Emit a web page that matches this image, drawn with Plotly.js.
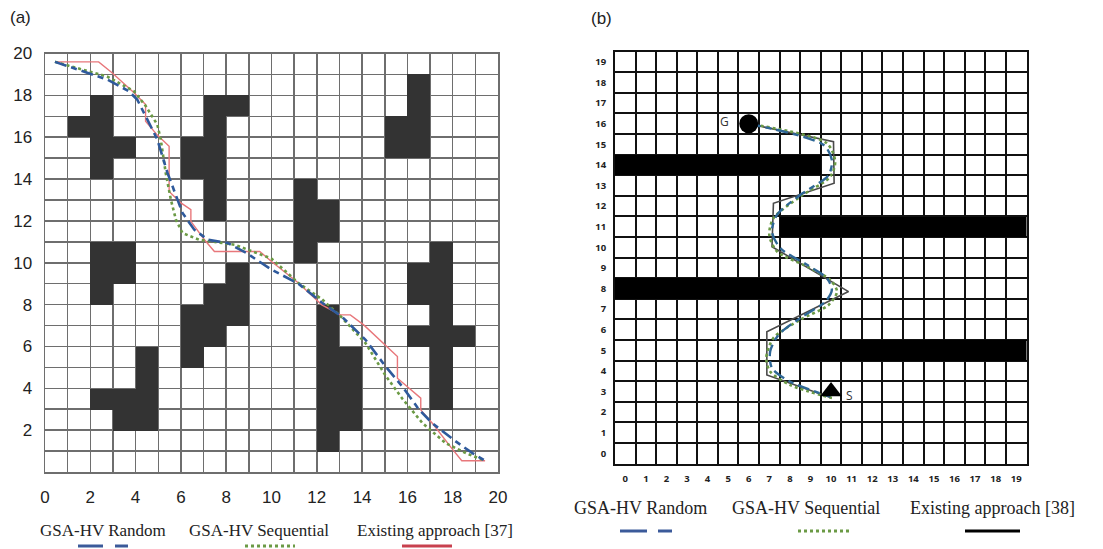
<!DOCTYPE html>
<html><head><meta charset="utf-8">
<script src="https://cdn.plot.ly/plotly-3.0.1.min.js"></script>
<style>html,body{margin:0;padding:0;background:#fff}#chart{width:1103px;height:549px}</style>
</head><body><div id="chart"></div>
<script>
// ---------- Panel (a) data ----------
// obstacle runs: column, row-from, row-to
const obsA_col = [1,2,3,6,7,8,2,3,8,7,6,4,3,2,11,12,15,16,16,17,12,13,17,16,18];
const obsA_y0  = [16,14,15,14,12,17,8,9,7,6,5,2,2,3,10,11,15,15,8,8,1,2,3,6,6];
const obsA_y1  = [17,18,16,16,18,18,11,11,10,9,8,6,4,4,14,13,17,19,10,11,8,6,8,7,7];

const randA_x = [0.44,2.74,3.7,4.07,4.52,4.96,5.41,5.7,6.07,6.59,7.19,8.07,8.9,10,11.19,12.22,13.1,14.15,15.04,15.78,16.52,17.1,18.15,18.89,19.43];
const randA_y = [19.6,18.76,18.2,17.8,16.84,15.89,14.29,13.49,12.38,11.58,11.1,10.94,10.46,9.67,9.0,8.1,7.43,6.32,5.04,4.08,2.97,2.33,1.45,0.89,0.54];

const seqA_x = [0.44,2.74,3.93,4.44,4.96,5.11,5.33,5.56,5.78,6.07,6.8,8.37,10,11.19,12.22,13.0,14.15,15.04,15.78,16.67,17.7,18.6,19.43];
const seqA_y = [19.6,18.9,18.2,17.5,16.6,15.89,14.29,13.0,12.06,11.42,11.1,10.86,10.2,9.03,8.26,7.5,6.16,4.6,3.5,2.33,1.37,0.89,0.54];

const exA_x = [0.44,2.37,2.96,3.93,4.44,4.44,4.96,5.48,5.48,6.0,6.44,6.44,7.04,7.48,9.48,10,11.19,12.22,13.04,13.48,14.07,15.1,15.56,15.56,16.15,16.59,16.59,17.1,17.96,18.4,19.43];
const exA_y = [19.6,19.6,19.08,18.12,17.56,16.76,16.1,15.57,13.41,12.86,12.54,11.98,11.1,10.54,10.54,10.06,9.03,7.99,7.51,7.51,7.03,6.0,5.52,4.48,3.92,3.53,2.97,2.33,1.13,0.54,0.54];

const ticksA_val = [0,1,2,3,4,5,6,7,8,9,10,11,12,13,14,15,16,17,18,19,20];
const ticksA_xtext = ['0','','2','','4','','6','','8','','10','','12','','14','','16','','18','','20'];
const ticksA_ytext = ['','','2','','4','','6','','8','','10','','12','','14','','16','','18','','20'];

// ---------- Panel (b) data ----------
const obsB_row = [14,11,8,5];
const obsB_c0  = [0,8,0,8];
const obsB_c1  = [9,19,9,19];

const randB_x = [6,9.64,10.04,9.88,8.5,7.37,7.13,7.53,8.83,9.8,10.04,9.72,8.5,7.45,7.04,7.13,8.0,9.96];
const randB_y = [16,14.97,14.24,13.51,12.54,11.57,10.76,9.96,9.15,8.5,7.93,7.36,6.56,5.75,4.94,4.13,3.48,2.75];

const seqB_x = [6,9.8,10.2,9.96,8.5,7.2,7.0,7.37,8.83,9.96,10.29,9.88,8.5,7.2,6.85,7.04,8.0,10.04];
const seqB_y = [16,15.05,14.16,13.43,12.46,11.41,10.6,9.8,9.07,8.42,7.85,7.2,6.48,5.59,4.62,3.97,3.32,2.68];

const exB_x = [6,10.12,10.15,7.2,7.13,10.85,6.88,6.88,10.04];
const exB_y = [16,15.13,13.11,12.14,10.03,7.85,5.9,3.8,2.68];

const goalB = [6,16];
const startB = [10,3.0];

const ticksB_val = [0,1,2,3,4,5,6,7,8,9,10,11,12,13,14,15,16,17,18,19];
const ticksB_text = ['0','1','2','3','4','5','6','7','8','9','10','11','12','13','14','15','16','17','18','19'];

const legendA = ['GSA-HV Random','GSA-HV Sequential','Existing approach [37]'];
const legendB = ['GSA-HV Random','GSA-HV Sequential','Existing approach [38]'];

// ---------- build ----------
const W = 1103, H = 549;
const px = v => v / W, py = v => 1 - v / H;

const centersA = Array.from({length:20}, (_, i) => i + 0.5);
const zA = Array.from({length:20}, () => Array(20).fill(0));
obsA_col.forEach((c, k) => { for (let r = obsA_y0[k]; r < obsA_y1[k]; r++) zA[r][c] = 1; });

const centersB = ticksB_val;
const zB = Array.from({length:20}, () => Array(20).fill(0));
obsB_row.forEach((r, k) => { for (let c = obsB_c0[k]; c <= obsB_c1[k]; c++) zB[r][c] = 1; });

const cBlue = '#2f5a9c', cBlueB = '#2e6796', cGreen = '#6b9a45', cRed = '#e8777b';

const traces = [
  {type:'heatmap', x:centersA, y:centersA, z:zA, zmin:0, zmax:1, showscale:false, hoverinfo:'skip',
   colorscale:[[0,'rgba(0,0,0,0)'],[1,'#333333']], xaxis:'x', yaxis:'y'},
  {type:'scatter', mode:'lines', x:exA_x, y:exA_y, line:{color:cRed, width:1.4}, xaxis:'x', yaxis:'y'},
  {type:'scatter', mode:'lines', x:seqA_x, y:seqA_y, line:{color:cGreen, width:2.6, dash:'dot'}, xaxis:'x', yaxis:'y'},
  {type:'scatter', mode:'lines', x:randA_x, y:randA_y, line:{color:cBlue, width:2.6, dash:'12px,5px,6px,5px'}, xaxis:'x', yaxis:'y'},

  {type:'heatmap', x:centersB, y:centersB, z:zB, zmin:0, zmax:1, showscale:false, hoverinfo:'skip',
   colorscale:[[0,'rgba(0,0,0,0)'],[1,'#000000']], xaxis:'x2', yaxis:'y2'},
  {type:'scatter', mode:'lines', x:exB_x, y:exB_y, line:{color:'#4a4a4a', width:1.6}, xaxis:'x2', yaxis:'y2'},
  {type:'scatter', mode:'lines', x:seqB_x, y:seqB_y, line:{color:cGreen, width:2.6, dash:'dot', shape:'spline', smoothing:0.8}, xaxis:'x2', yaxis:'y2'},
  {type:'scatter', mode:'lines', x:randB_x, y:randB_y, line:{color:cBlueB, width:2.4, dash:'12px,5px,6px,5px', shape:'spline', smoothing:0.8}, xaxis:'x2', yaxis:'y2'},
  {type:'scatter', mode:'markers', x:[goalB[0]], y:[goalB[1]], marker:{symbol:'circle', size:19, color:'#000'}, xaxis:'x2', yaxis:'y2'},
  {type:'scatter', mode:'markers', x:[startB[0]], y:[startB[1]], marker:{symbol:'triangle-up', size:19, color:'#000'}, xaxis:'x2', yaxis:'y2'}
];

const gA = '#6e6e6e';
const fontA = {family:'Liberation Sans, Arial, sans-serif', size:17, color:'#222'};
const fontB = {family:'Open Sans, Noto Sans, sans-serif', size:9.5, color:'#222', weight:700};
const serif = 'Liberation Serif, Times New Roman, serif';

const annotations = [
  {xref:'paper', yref:'paper', x:px(8), y:py(17), text:'(a)', showarrow:false, xanchor:'left', yanchor:'middle', font:{family:fontA.family, size:17, color:'#222'}},
  {xref:'paper', yref:'paper', x:px(589), y:py(18), text:'(b)', showarrow:false, xanchor:'left', yanchor:'middle', font:{family:fontA.family, size:17, color:'#222'}},
  {xref:'x2', yref:'y2', x:4.8, y:16.1, text:'G', showarrow:false, font:{family:'Open Sans, sans-serif', size:12, color:'#333'}},
  {xref:'x2', yref:'y2', x:10.9, y:2.8, text:'S', showarrow:false, font:{family:'Open Sans, sans-serif', size:12, color:'#333'}}
];
const legAx = [38, 187, 355], legBx = [572, 730, 908];
legendA.forEach((t, i) => annotations.push({xref:'paper', yref:'paper', x:px(legAx[i]), y:py(530), text:t, showarrow:false,
  xanchor:'left', yanchor:'middle', font:{family:serif, size:17, color:'#222'}}));
legendB.forEach((t, i) => annotations.push({xref:'paper', yref:'paper', x:px(legBx[i]), y:py(508), text:t, showarrow:false,
  xanchor:'left', yanchor:'middle', font:{family:serif, size:18, color:'#222'}}));

const seg = (x0, x1, y, color, dash, w) => ({type:'line', xref:'paper', yref:'paper', x0:px(x0), x1:px(x1), y0:py(y), y1:py(y),
  line:{color:color, width:w||3, dash:dash||'solid'}});
const shapes = [
  seg(78,103,546,'#3b5a9a'), seg(115,128,546,'#3b5a9a'),
  seg(245,295,546,cGreen,'dot'),
  seg(402,452,546,'#c8404e'),
  seg(620,647,531,'#3b5a9a'), seg(658,672,531,'#3b5a9a'),
  seg(798,850,531,cGreen,'dot'),
  seg(965,1020,531,'#000')
];

const halfB = Array.from({length:21}, (_, i) => i - 0.5);

const layout = {
  width:W, height:H, margin:{l:0,r:0,t:0,b:0}, paper_bgcolor:'#fff', plot_bgcolor:'#fff', showlegend:false,
  xaxis:{domain:[px(45), px(498)], range:[0,20], tickmode:'array', tickvals:ticksA_val, ticktext:ticksA_xtext,
    showgrid:true, gridcolor:gA, gridwidth:1.5, showline:true, mirror:true, linecolor:gA, linewidth:1.5, zeroline:false,
    ticks:'outside', ticklen:9, tickcolor:'rgba(0,0,0,0)', tickfont:fontA, fixedrange:true, anchor:'y'},
  yaxis:{domain:[1-472/H, 1-53.5/H], range:[0,20], tickmode:'array', tickvals:ticksA_val, ticktext:ticksA_ytext,
    showgrid:true, gridcolor:gA, gridwidth:1.5, showline:true, mirror:true, linecolor:gA, linewidth:1.5, zeroline:false,
    ticks:'outside', ticklen:8, tickcolor:'rgba(0,0,0,0)', tickfont:fontA, fixedrange:true, anchor:'x'},
  xaxis2:{domain:[px(615), px(1026.5)], range:[-0.5,19.5], tickmode:'array', tickvals:ticksB_val, ticktext:ticksB_text,
    showgrid:false, showline:true, mirror:true, linecolor:'#111', linewidth:2, zeroline:false,
    minor:{tickmode:'array', tickvals:halfB, showgrid:true, gridcolor:'#111', gridwidth:2, ticks:''},
    ticks:'outside', ticklen:5, tickcolor:'rgba(0,0,0,0)', tickfont:fontB, fixedrange:true, anchor:'y2'},
  yaxis2:{domain:[1-463.5/H, 1-51.7/H], range:[-0.5,19.5], tickmode:'array', tickvals:ticksB_val, ticktext:ticksB_text,
    showgrid:false, showline:true, mirror:true, linecolor:'#111', linewidth:2, zeroline:false,
    minor:{tickmode:'array', tickvals:halfB, showgrid:true, gridcolor:'#111', gridwidth:2, ticks:''},
    ticks:'outside', ticklen:5, tickcolor:'rgba(0,0,0,0)', tickfont:fontB, fixedrange:true, anchor:'x2'},
  annotations:annotations, shapes:shapes
};

Plotly.newPlot('chart', traces, layout, {staticPlot:true, displayModeBar:false});
</script></body></html>
